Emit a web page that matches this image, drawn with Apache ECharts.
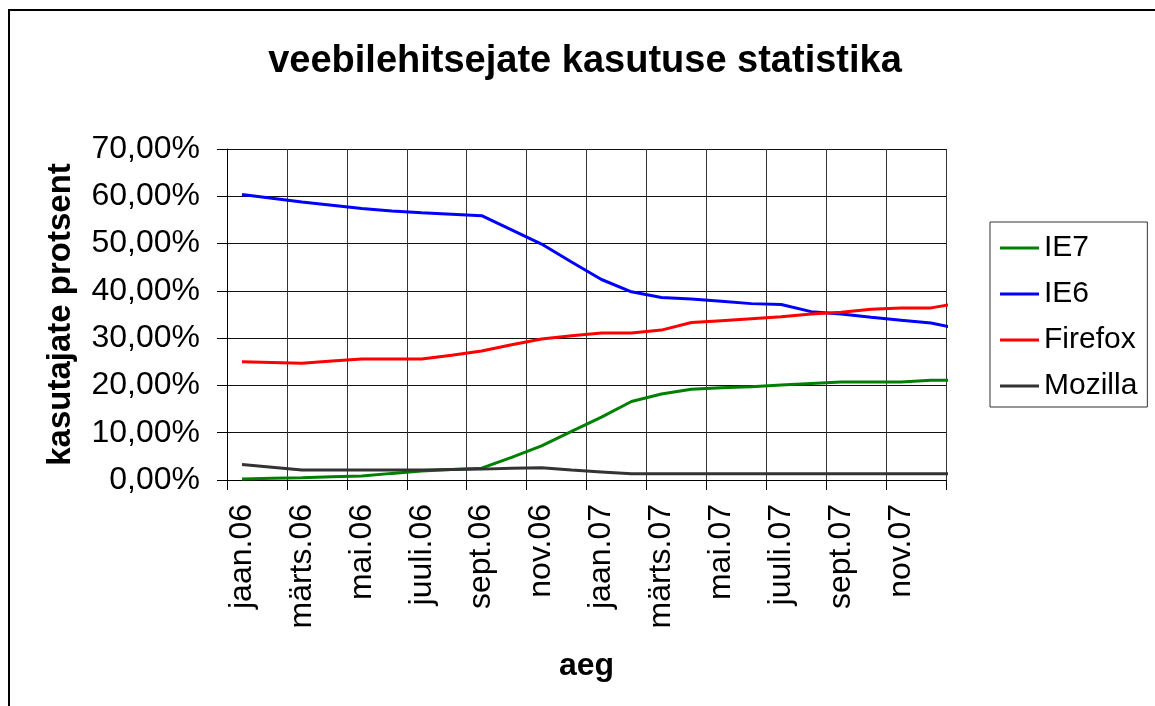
<!DOCTYPE html>
<html>
<head>
<meta charset="utf-8">
<script src="https://cdn.jsdelivr.net/npm/echarts@6/dist/echarts.min.js"></script>
<style>
  html, body { margin: 0; padding: 0; background: #fff; }
  #chart { width: 1155px; height: 706px; }
</style>
</head>
<body>
<div id="chart"></div>
<script>
// Month categories (jaan.06 … dets.07, plus jaan.08 which is clipped at the plot edge)
const months = [
  'jaan.06', 'veebr.06', 'märts.06', 'apr.06', 'mai.06', 'juuni.06',
  'juuli.06', 'aug.06', 'sept.06', 'okt.06', 'nov.06', 'dets.06',
  'jaan.07', 'veebr.07', 'märts.07', 'apr.07', 'mai.07', 'juuni.07',
  'juuli.07', 'aug.07', 'sept.07', 'okt.07', 'nov.07', 'dets.07',
  'jaan.08'
];

const seriesNames = ['IE7', 'IE6', 'Firefox', 'Mozilla'];

// values in percent
const ie7 = [0.2, 0.35, 0.5, 0.7, 0.85, 1.4, 1.9, 2.2, 2.5, 4.8, 7.2, 10.3,
             13.3, 16.6, 18.2, 19.2, 19.5, 19.7, 20.1, 20.4, 20.7, 20.7, 20.7, 21.1, 21.1];
const ie6 = [60.4, 59.6, 58.8, 58.1, 57.4, 56.9, 56.5, 56.2, 55.9, 52.9, 49.9, 46.1,
             42.4, 39.8, 38.6, 38.3, 37.8, 37.3, 37.1, 35.6, 35.1, 34.4, 33.8, 33.2, 31.9];
const firefox = [25.0, 24.85, 24.7, 25.15, 25.6, 25.6, 25.6, 26.4, 27.3, 28.6, 29.8, 30.5,
                 31.1, 31.1, 31.7, 33.3, 33.7, 34.1, 34.5, 35.1, 35.5, 36.1, 36.4, 36.4, 37.5];
const mozilla = [3.3, 2.7, 2.1, 2.1, 2.1, 2.1, 2.1, 2.2, 2.3, 2.5, 2.6, 2.1,
                 1.7, 1.3, 1.3, 1.3, 1.3, 1.3, 1.3, 1.3, 1.3, 1.3, 1.3, 1.3, 1.3];

const seriesColors = ['#008000', '#0000FF', '#FF0000', '#333333'];
const seriesData = [ie7, ie6, firefox, mozilla];

const FONT = '"Liberation Sans", Arial, Helvetica, sans-serif';

const chart = echarts.init(document.getElementById('chart'), null, { renderer: 'canvas' });

chart.setOption({
  animation: false,
  backgroundColor: '#ffffff',
  textStyle: { fontFamily: FONT, color: '#000' },
  title: {
    text: 'veebilehitsejate kasutuse statistika',
    left: 585,
    top: 43,
    textAlign: 'center',
    padding: 0,
    textStyle: { fontFamily: FONT, fontSize: 38, fontWeight: 'bold', color: '#000' }
  },
  graphic: [{
    type: 'rect',
    silent: true,
    shape: { x: 9, y: 10, width: 1200, height: 800 },
    style: { fill: 'none', stroke: '#000', lineWidth: 2 }
  }],
  legend: {
    orient: 'vertical',
    left: 990,
    top: 222,
    padding: [11, 10, 6, 10],
    icon: 'rect',
    itemWidth: 39,
    itemHeight: 3,
    itemGap: 16,
    itemTextGap: 9,
    borderColor: '#333',
    borderWidth: 1,
    data: seriesNames,
    textStyle: { fontFamily: FONT, fontSize: 30, lineHeight: 30, color: '#000' }
  },
  grid: { left: 227, right: 209, top: 149, bottom: 226, containLabel: false },
  xAxis: {
    type: 'category',
    data: months,
    boundaryGap: true,
    max: 23,
    name: 'aeg',
    nameLocation: 'middle',
    nameGap: 170,
    nameTextStyle: { fontFamily: FONT, fontSize: 32, fontWeight: 'bold', color: '#000' },
    axisLine: { show: true, lineStyle: { color: '#000', width: 1 } },
    axisTick: { show: true, interval: 1, length: 10, lineStyle: { color: '#000' } },
    axisLabel: { interval: 1, rotate: 90, margin: 24, fontFamily: FONT, fontSize: 32, color: '#000' },
    splitLine: { show: true, interval: 1, lineStyle: { color: '#333', width: 1 } }
  },
  yAxis: {
    type: 'value',
    min: 0,
    max: 70,
    interval: 10,
    name: 'kasutajate protsent',
    nameLocation: 'middle',
    nameGap: 150,
    nameTextStyle: { fontFamily: FONT, fontSize: 33, fontWeight: 'bold', color: '#000' },
    axisLine: { show: true, lineStyle: { color: '#000', width: 1 } },
    axisTick: { show: true, length: 10, lineStyle: { color: '#000' } },
    axisLabel: {
      margin: 27,
      fontFamily: FONT,
      fontSize: 32,
      color: '#000',
      formatter: v => v.toFixed(2).replace('.', ',') + '%'
    },
    splitLine: { show: true, lineStyle: { color: '#111', width: 1 } }
  },
  series: seriesNames.map((name, i) => ({
    name: name,
    type: 'line',
    data: seriesData[i],
    symbol: 'none',
    clip: true,
    smooth: false,
    color: seriesColors[i],
    lineStyle: { color: seriesColors[i], width: 3 },
    itemStyle: { color: seriesColors[i] }
  }))
});
</script>
</body>
</html>
